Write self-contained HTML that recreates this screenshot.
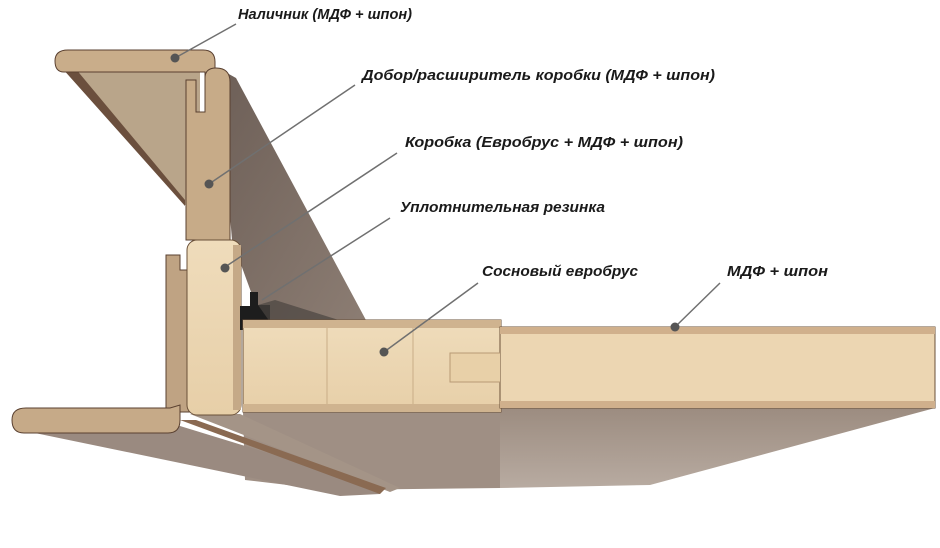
<!DOCTYPE html>
<html><head><meta charset="utf-8"><style>
html,body{margin:0;padding:0;background:#fff;}
svg{display:block}
text{font-family:"Liberation Sans",sans-serif;font-style:italic;font-weight:bold;font-size:15px;fill:#1a1a1a;}
</style></head><body>
<svg width="940" height="548" viewBox="0 0 940 548" xmlns="http://www.w3.org/2000/svg">
<defs>
<linearGradient id="br" x1="0" y1="0" x2="1" y2="1"><stop offset="0" stop-color="#6d5f57"/><stop offset="1" stop-color="#8c7d73"/></linearGradient>
<linearGradient id="door" x1="0" y1="0" x2="0" y2="1"><stop offset="0" stop-color="#9c8c80"/><stop offset="1" stop-color="#b8aba1"/></linearGradient>
<linearGradient id="pine" x1="0" y1="0" x2="0" y2="1"><stop offset="0" stop-color="#efdcbb"/><stop offset="1" stop-color="#e7cfa8"/></linearGradient>
</defs>
<!-- top architrave back face -->
<polygon points="62,68 200,68 200,200 185,205" fill="#b9a58a"/>
<polygon points="62,68 75,68 185,200 185,206" fill="#6b4f3d"/>
<!-- big brown diagonal veneer face of dobor -->
<polygon points="218,68 236,78 367,322 262,322 232,240" fill="url(#br)"/>
<!-- top architrave cross-section -->
<path d="M68,50 H203 Q215,50 215,62 V112 H205 V72 H64 Q55,72 55,61 Q55,50 68,50 Z" fill="#c9ad8a" stroke="#5a4030" stroke-width="1"/>
<!-- dobor strip -->
<path d="M186,240 V80 H196 V112 H205 V78 Q205,68 216,68 Q230,68 230,82 V240 Z" fill="#c7ab88" stroke="#5a4030" stroke-width="1"/>
<!-- lower architrave vertical strip -->
<path d="M166,255 H180 V270 H190 V412 H166 Z" fill="#bfa383" stroke="#5a4030" stroke-width="1"/>
<!-- door bottom face -->
<polygon points="243,412 500,412 500,488 330,490 245,480" fill="#9f8f84"/>
<polygon points="500,408 935,408 650,485 500,488" fill="url(#door)"/>
<!-- korobka bottom face -->
<polygon points="190,414 240,414 400,488 390,492" fill="#a49487"/>
<!-- bottom architrave brown face -->
<polygon points="30,432 180,426 382,488 380,494 340,496" fill="#9a8a80"/>
<polygon points="180,420 196,420 386,488 380,494" fill="#8a6a52"/>
<!-- bottom architrave cross-section -->
<path d="M180,405 V420 Q180,433 168,433 H24 Q12,433 12,420 Q12,408 26,408 H170 Z" fill="#c6aa88" stroke="#5a4030" stroke-width="1"/>
<!-- korobka block -->
<rect x="187" y="240" width="54" height="175" rx="10" fill="url(#pine)" stroke="#6a5038" stroke-width="1"/>
<rect x="233" y="245" width="8" height="165" fill="#c5a987"/>
<!-- seal -->
<path d="M250,292 H258 V305 H270 V320 H248 V330 H240 V306 H250 Z" fill="#1d1d1d"/>
<polygon points="258,305 275,300 345,322 270,322" fill="#4a4540" opacity="0.7"/>
<!-- door leaf pine part -->
<rect x="243" y="320" width="258" height="92" fill="url(#pine)" stroke="#6a5038" stroke-width="1"/>
<rect x="243" y="320" width="258" height="8" fill="#cfb38f"/>
<rect x="243" y="404" width="258" height="8" fill="#cfb38f"/>
<line x1="327" y1="328" x2="327" y2="404" stroke="#c9ad87"/>
<line x1="413" y1="328" x2="413" y2="404" stroke="#c9ad87"/>
<!-- door mdf part -->
<rect x="500" y="327" width="435" height="81" fill="#ecd6b2" stroke="#6a5038" stroke-width="1"/>
<rect x="500" y="327" width="435" height="7" fill="#d0b08c"/>
<rect x="500" y="401" width="435" height="7" fill="#d0b08c"/>
<path d="M500,353 H450 V382 H500" fill="#e8d0a8" stroke="#b89a75"/>
<!-- leader lines -->
<g stroke="#707070" stroke-width="1.5" fill="none">
<line x1="236" y1="24" x2="175" y2="58"/>
<line x1="355" y1="85" x2="209" y2="184"/>
<line x1="397" y1="153" x2="222" y2="269"/>
<line x1="390" y1="218" x2="262" y2="300"/>
<line x1="478" y1="283" x2="384" y2="352"/>
<line x1="720" y1="283" x2="675" y2="327"/>
</g>
<g fill="#555">
<circle cx="175" cy="58" r="4.5"/><circle cx="209" cy="184" r="4.5"/><circle cx="225" cy="268" r="4.5"/>
<circle cx="384" cy="352" r="4.5"/><circle cx="675" cy="327" r="4.5"/>
</g>
<text x="238" y="19" textLength="174" lengthAdjust="spacingAndGlyphs">Наличник (МДФ + шпон)</text>
<text x="362" y="80" textLength="353" lengthAdjust="spacingAndGlyphs">Добор/расширитель коробки (МДФ + шпон)</text>
<text x="405" y="147" textLength="278" lengthAdjust="spacingAndGlyphs">Коробка (Евробрус + МДФ + шпон)</text>
<text x="400" y="212" textLength="205" lengthAdjust="spacingAndGlyphs">Уплотнительная резинка</text>
<text x="482" y="276" textLength="156" lengthAdjust="spacingAndGlyphs">Сосновый евробрус</text>
<text x="727" y="276" textLength="101" lengthAdjust="spacingAndGlyphs">МДФ + шпон</text>
</svg>
</body></html>
